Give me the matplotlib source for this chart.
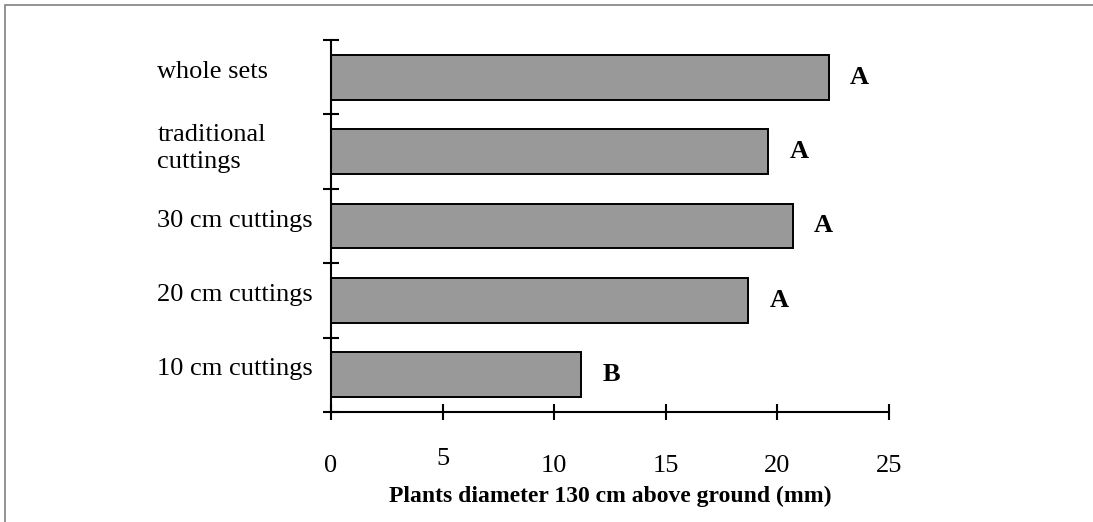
import matplotlib
matplotlib.use("Agg")
import matplotlib.pyplot as plt
from matplotlib.patches import Rectangle
from matplotlib.transforms import ScaledTranslation

# datos (de arriba hacia abajo)
categorias = ["whole sets", "traditional\ncuttings", "30 cm cuttings",
              "20 cm cuttings", "10 cm cuttings"]
diametros = [22.3, 19.6, 20.7, 18.7, 11.2]
letras = ["A", "A", "A", "A", "B"]
ticks_x = [0, 5, 10, 15, 20, 25]

plt.rcParams['font.family'] = ['Liberation Serif', 'DejaVu Serif']

fig = plt.figure(figsize=(10.93, 5.22), dpi=100)
ax = fig.add_axes([331/1093, 110/522, 558/1093, 372/522])

pos = list(range(len(categorias)))
ax.barh(pos, diametros, height=0.6, color='#999999', edgecolor='black', linewidth=1.4)

for p, v, l in zip(pos, diametros, letras):
    ax.text(v + 0.95, p, l, ha='left', va='center', fontsize=19, fontweight='bold')

ax.set_xlim(0, 25)
ax.set_ylim(4.5, -0.5)

# etiquetas en el centro, ticks en los bordes de cada categoria
ax.set_yticks(pos)
ax.set_yticklabels(categorias, fontsize=19, ha='left', linespacing=1.3)
ax.set_yticks([p - 0.5 for p in pos] + [4.5], minor=True)
ax.tick_params(axis='y', which='major', length=0, pad=125)
ax.tick_params(axis='y', which='minor', length=12, width=1.5, direction='inout')
# las etiquetas del original quedan algo por encima del centro de la barra
for lbl in ax.get_yticklabels():
    lbl.set_transform(lbl.get_transform() + ScaledTranslation(0, 8/100, fig.dpi_scale_trans))

ax.set_xticks(ticks_x)
ax.set_xticklabels([str(t) for t in ticks_x], fontsize=19)
ax.tick_params(axis='x', length=12, width=1.5, direction='inout', pad=25)
# el "5" aparece un poco mas arriba en el original
lbl5 = ax.get_xticklabels()[1]
lbl5.set_transform(lbl5.get_transform() + ScaledTranslation(0, 7/100, fig.dpi_scale_trans))

ax.set_xlabel('Plants diameter 130 cm above ground (mm)', fontsize=17, fontweight='bold')
ax.xaxis.set_label_coords(0.5, -0.228)
ax.xaxis.label.set_va('center')

for s in ['top', 'right']:
    ax.spines[s].set_visible(False)
for s in ['left', 'bottom']:
    ax.spines[s].set_linewidth(1.5)

# marco gris del grafico
fig.patches.append(Rectangle((5/1093, -0.05), 1.1, (517/522) + 0.05, transform=fig.transFigure,
                             fill=False, edgecolor='#808080', linewidth=1.2))

fig.savefig('out.png', dpi=100)
